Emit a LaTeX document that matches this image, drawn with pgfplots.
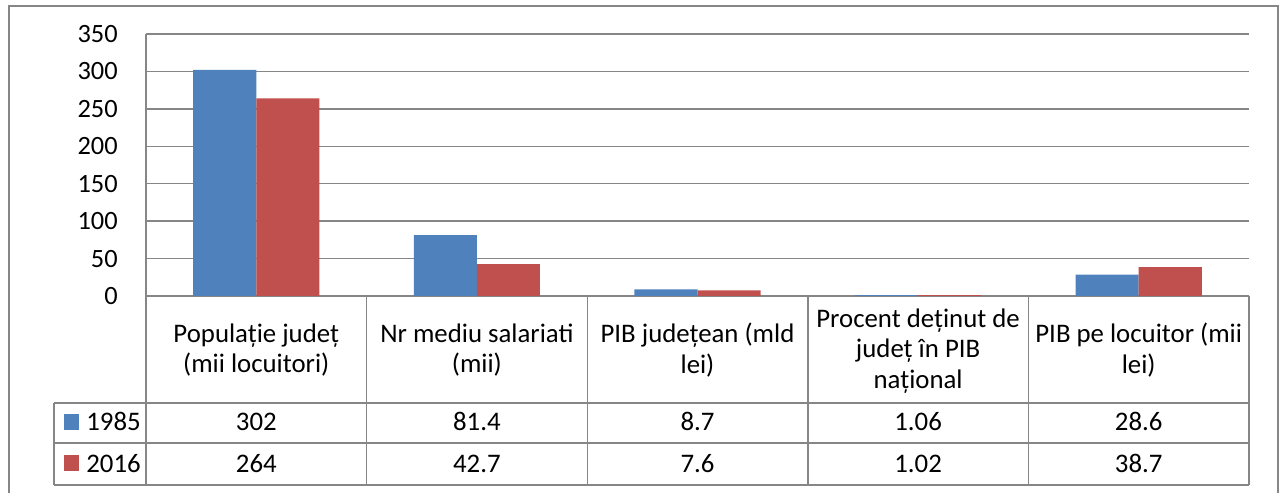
\documentclass[border=0pt]{standalone}
\usepackage{pgfplots}
\pgfplotsset{compat=1.18}
\usepackage{fontspec}
\setmainfont{Carlito}
\definecolor{bblue}{RGB}{79,129,189}
\definecolor{bred}{RGB}{192,80,77}
\definecolor{lgray}{RGB}{134,134,134}
\begin{document}
\fontsize{13.4pt}{15.25pt}\selectfont
\begin{tikzpicture}
\useasboundingbox (0,0) rectangle (640pt,246.5pt);
\begin{axis}[
 at={(73pt,98.5pt)}, anchor=south west,
 scale only axis, width=551.5pt, height=131pt,
 xmin=-0.5, xmax=4.5, ymin=0, ymax=350,
 ytick={0,50,...,350}, xtick=\empty,
 axis lines*=left, axis line style={draw=lgray, line width=0.7pt},
 ymajorgrids, grid style={draw=lgray, line width=0.7pt},
 major tick length=0pt,
 yticklabel style={font=\fontsize{13.2pt}{14pt}\selectfont, xshift=-9.5pt},
 /pgf/number format/assume math mode=true,
 ybar, bar width=0.286,
 clip=false,
]
\addplot[fill=bblue, draw=none, bar shift=-0.143] coordinates {(0,302) (1,81.4) (2,8.7) (3,1.06) (4,28.6)};
\addplot[fill=bred, draw=none, bar shift=0.143] coordinates {(0,264) (1,42.7) (2,7.6) (3,1.02) (4,38.7)};
\end{axis}
\begin{scope}[x=0.5pt, y=-0.5pt, shift={(0,246.5pt)}]
 \draw[lgray, line width=0.7pt] (9,493) -- (9,6) -- (1278,6) -- (1278,493);
 \draw[lgray, line width=0.7pt] (54,403) -- (1249,403) (54,443) -- (1249,443) (54,485) -- (1249,485) (54,403) -- (54,485);
 \foreach \xx in {146,366.6,587.2,807.8,1028.4,1249} {\draw[lgray, line width=0.7pt] (\xx,296) -- (\xx,485);}
 \node[align=center] at (256.3,350) {Populație județ\\(mii locuitori)};
 \node[align=center] at (476.9,350) {Nr mediu salariati\\(mii)};
 \node[align=center] at (697.5,350) {PIB județean (mld\\lei)};
 \node[align=center] at (918.1,351) {Procent deținut de\\județ în PIB\\național};
 \node[align=center] at (1138.7,350) {PIB pe locuitor (mii\\lei)};
 \fill[bblue] (64,414) rectangle (79,430);
 \fill[bred] (64,455) rectangle (79,471);
 \node[anchor=base west, inner sep=0pt] at (86,431) {1985};
 \node[anchor=base west, inner sep=0pt] at (86,472) {2016};
 \foreach \xx/\a/\b in {256.3/302/264, 476.9/81.4/42.7, 697.5/8.7/7.6, 918.1/1.06/1.02, 1138.7/28.6/38.7} {
   \node[anchor=base, inner sep=0pt] at (\xx,431) {\a};
   \node[anchor=base, inner sep=0pt] at (\xx,472) {\b};
 }
\end{scope}
\end{tikzpicture}
\end{document}
